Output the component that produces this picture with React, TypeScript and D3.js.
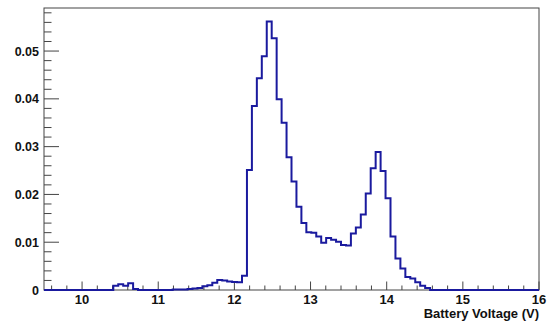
import { useRef, useEffect } from 'react';
import * as d3 from 'd3';

// histogram: 100 bins from 9.5 to 16 V (normalised)
var X_MIN = 9.5;
var X_MAX = 16;
var BIN_WIDTH = 0.065;
var binValues = [
  0, 0, 0, 0, 0, 0, 0, 0, 0, 0,
  0, 0, 0, 0, 0.0009, 0.0012, 0.0009, 0.0014, 0.0002, 0,
  0, 0, 0, 0, 0, 0, 0.0001, 0.0001, 0.0001, 0.0002,
  0.0003, 0.0004, 0.0008, 0.0010, 0.0015, 0.0021, 0.0020, 0.0018, 0.0017, 0.0016,
  0.0030, 0.0251, 0.0385, 0.0443, 0.0489, 0.0562, 0.0527, 0.0399, 0.0350, 0.0278,
  0.0227, 0.0174, 0.0140, 0.0121, 0.0120, 0.0112, 0.0099, 0.0109, 0.0105, 0.0101,
  0.0094, 0.0093, 0.0118, 0.0131, 0.0158, 0.0202, 0.0255, 0.0289, 0.0249, 0.0192,
  0.0112, 0.0066, 0.0045, 0.0027, 0.0024, 0.0016, 0.0009, 0.0004, 0, 0,
  0, 0, 0, 0, 0, 0, 0, 0, 0, 0,
  0, 0, 0, 0, 0, 0, 0, 0, 0, 0
];
var xTicks = [10, 11, 12, 13, 14, 15, 16];
var yTicks = [0, 0.01, 0.02, 0.03, 0.04, 0.05];
var xTitle = 'Battery Voltage (V)';

var W = 553;
var H = 322;
var AXIS = '#444';
var LINE = '#1a1a9e';
var FONT = '"Liberation Sans", Arial, sans-serif';

export default function App() {
  var svgRef = useRef<SVGSVGElement>(null);

  useEffect(function () {
    var svg = d3.select(svgRef.current);
    svg.selectAll('*').remove();

    var left = 44, right = 539, top = 8, bottom = 290;
    var x = d3.scaleLinear().domain([X_MIN, X_MAX]).range([left, right]);
    var yMax = d3.max(binValues) * 1.05;
    var y = d3.scaleLinear().domain([0, yMax]).range([bottom, top]);

    // frame
    svg.append('rect')
      .attr('x', left).attr('y', top)
      .attr('width', right - left).attr('height', bottom - top)
      .attr('fill', 'none').attr('stroke', AXIS).attr('stroke-width', 1);

    // x axis ticks (minor every 0.2)
    var xMinor = d3.range(9.6, 16.001, 0.2);
    svg.append('g').selectAll('line')
      .data(xMinor)
      .join('line')
      .attr('x1', function (d) { return x(d); })
      .attr('x2', function (d) { return x(d); })
      .attr('y1', bottom)
      .attr('y2', function (d) { return Math.abs(d - Math.round(d)) < 1e-6 ? bottom - 8.5 : bottom - 4.5; })
      .attr('stroke', AXIS);

    svg.append('g').selectAll('text')
      .data(xTicks)
      .join('text')
      .attr('x', function (d) { return x(d); })
      .attr('y', 304)
      .attr('text-anchor', 'middle')
      .attr('font-family', FONT)
      .attr('font-weight', 'bold')
      .attr('font-size', 13)
      .attr('fill', '#111')
      .text(function (d) { return d; });

    // y axis ticks (minor every 0.002)
    var yMinor = d3.range(0, yMax, 0.002);
    svg.append('g').selectAll('line')
      .data(yMinor)
      .join('line')
      .attr('x1', left)
      .attr('x2', function (d, i) { return i % 5 === 0 ? left + 15 : left + 7.5; })
      .attr('y1', function (d) { return y(d); })
      .attr('y2', function (d) { return y(d); })
      .attr('stroke', AXIS);

    svg.append('g').selectAll('text')
      .data(yTicks)
      .join('text')
      .attr('x', 39)
      .attr('y', function (d) { return y(d) + 4.5; })
      .attr('text-anchor', 'end')
      .attr('font-family', FONT)
      .attr('font-weight', 'bold')
      .attr('font-size', 12.5)
      .attr('fill', '#111')
      .text(function (d) { return d === 0 ? '0' : d3.format('.2f')(d); });

    // histogram outline
    var pts: [number, number][] = [[x(X_MIN), y(0)]];
    binValues.forEach(function (v, i) {
      var x0 = X_MIN + i * BIN_WIDTH;
      pts.push([x(x0), y(v)]);
      pts.push([x(x0 + BIN_WIDTH), y(v)]);
    });
    pts.push([x(X_MAX), y(0)]);

    svg.append('path')
      .attr('d', d3.line()(pts))
      .attr('fill', 'none')
      .attr('stroke', LINE)
      .attr('stroke-width', 2)
      .attr('stroke-linejoin', 'miter');

    // axis title
    svg.append('text')
      .attr('x', right)
      .attr('y', 318)
      .attr('text-anchor', 'end')
      .attr('font-family', FONT)
      .attr('font-weight', 'bold')
      .attr('font-size', 13)
      .attr('fill', '#111')
      .text(xTitle);
  }, []);

  return (
    <svg
      ref={svgRef}
      width={W}
      height={H}
      style={{ position: 'absolute', left: 0, top: 0, background: '#fff' }}
    />
  );
}
